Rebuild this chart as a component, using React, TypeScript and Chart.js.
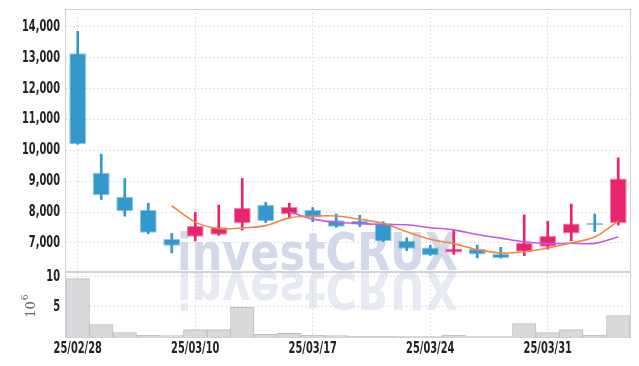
import React, { useEffect, useRef } from 'react';
import { Chart, registerables } from 'chart.js';
Chart.register(...registerables);

const labels = [
  '25/02/28', '25/03/04', '25/03/05', '25/03/06', '25/03/07',
  '25/03/10', '25/03/11', '25/03/12', '25/03/13', '25/03/14',
  '25/03/17', '25/03/18', '25/03/19', '25/03/20', '25/03/21',
  '25/03/24', '25/03/25', '25/03/26', '25/03/27', '25/03/28',
  '25/03/31', '25/04/01', '25/04/02', '25/04/03',
];
const shownLabels = ['25/02/28', '25/03/10', '25/03/17', '25/03/24', '25/03/31'];

const opens = [13150, 9275, 8500, 8080, 7130, 7200, 7270, 7640, 8240, 7930, 8070, 7740, 7710, 7640, 7070, 6850, 6690, 6810, 6640, 6720, 6880, 7310, 7600, 7640];
const closes = [10200, 8550, 8040, 7330, 6910, 7550, 7510, 8130, 7710, 8170, 7830, 7530, 7600, 7060, 6810, 6600, 6820, 6630, 6510, 7010, 7230, 7630, 7580, 9090];
const highs = [13860, 9880, 9090, 8290, 7310, 7990, 8230, 9090, 8320, 8290, 8150, 7940, 7900, 7690, 7170, 6930, 7420, 6930, 6860, 7910, 7710, 8260, 7940, 9760];
const lows = [10200, 8410, 7870, 7300, 6680, 7070, 7250, 7420, 7660, 7800, 7690, 7510, 7530, 7050, 6750, 6600, 6630, 6520, 6510, 6590, 6800, 7070, 7370, 7580];
const ma5 = [null, null, null, null, 8207, 7677, 7468, 7487, 7563, 7814, 7870, 7874, 7768, 7639, 7367, 7121, 6979, 6785, 6675, 6715, 6840, 7002, 7191, 7707];
const ma10 = [null, null, null, null, null, null, null, null, null, 8010, 7774, 7671, 7628, 7601, 7590, 7496, 7426, 7277, 7157, 7041, 6981, 6991, 6988, 7191];
const volumes = [9.73, 2.07, 0.73, 0.28, 0.25, 1.23, 1.23, 4.95, 0.45, 0.62, 0.28, 0.23, 0.1, 0.1, 0.05, 0.05, 0.28, 0.05, 0.05, 2.23, 0.73, 1.23, 0.28, 3.57];

const priceTicks = [7000, 8000, 9000, 10000, 11000, 12000, 13000, 14000];
const volumeTicks = [5, 10];
const watermark = 'investCRUX';
const volumeUnit = '10';
const volumeExp = '6';

const RED = '#e8246e';
const RED_BORDER = 'rgba(232,36,110,0.55)';
const BLUE = '#3399cc';
const BLUE_BORDER = 'rgba(51,153,204,0.55)';
const GRID = '#c6c9db';
const LABEL_FONT = 'bold 15px "DejaVu Sans", sans-serif';

export default function App() {
  const ref = useRef<HTMLCanvasElement>(null);
  useEffect(() => {
    document.body.style.margin = '0';
    const canvas = ref.current!;
    const up = opens.map((o, i) => closes[i] >= o);
    const bodyColors = up.map((u) => (u ? RED : BLUE));
    const bodyBorders = up.map((u) => (u ? RED_BORDER : BLUE_BORDER));

    const drawLabel = (ctx: any, text: string, x: number, y: number, align: 'right' | 'center', sx: number) => {
      ctx.save();
      ctx.translate(x, y);
      ctx.scale(sx, 1);
      ctx.textAlign = align;
      ctx.textBaseline = 'middle';
      ctx.fillText(text, 0, 0);
      ctx.restore();
    };

    const decor = {
      id: 'decor',
      beforeDraw(chart: any) {
        const ctx = chart.ctx;
        ctx.save();
        ctx.font = 'bold 52px "DejaVu Sans", sans-serif';
        ctx.textBaseline = 'alphabetic';
        const w = ctx.measureText(watermark).width;
        const sx = 281 / w;
        const baseY = 270;
        ctx.save();
        ctx.translate(177, baseY);
        ctx.scale(sx, 1);
        ctx.fillStyle = '#d3d8ea';
        ctx.fillText(watermark, 0, 0);
        ctx.restore();
        ctx.save();
        ctx.translate(177, baseY + 2);
        ctx.scale(sx, -1);
        ctx.fillStyle = '#e8eaf3';
        ctx.fillText(watermark, 0, 0);
        ctx.restore();
        ctx.restore();
      },
      afterDraw(chart: any) {
        const ctx = chart.ctx;
        const a = chart.chartArea;
        const ys = chart.scales.y;
        const y2 = chart.scales.y2;
        const xs = chart.scales.x;
        ctx.save();
        ctx.strokeStyle = '#d2d2d6';
        ctx.lineWidth = 1;
        ctx.strokeRect(a.left - 0.5, a.top + 0.5, a.right - a.left + 1, a.bottom - a.top);
        ctx.strokeStyle = '#c4c4c8';
        ctx.lineWidth = 1.5;
        ctx.beginPath();
        ctx.moveTo(a.left, ys.bottom);
        ctx.lineTo(a.right, ys.bottom);
        ctx.stroke();

        // tick labels (condensed)
        ctx.font = LABEL_FONT;
        ctx.fillStyle = '#222';
        const sx = 38 / ctx.measureText('14,000').width;
        priceTicks.forEach((v) => drawLabel(ctx, v.toLocaleString('en-US'), 60, ys.getPixelForValue(v), 'right', sx));
        volumeTicks.forEach((v) => drawLabel(ctx, String(v), 60, y2.getPixelForValue(v), 'right', sx));
        labels.forEach((l, i) => {
          if (shownLabels.includes(l)) drawLabel(ctx, l, xs.getPixelForValue(i), 349, 'center', sx);
        });

        ctx.translate(35, (y2.top + y2.bottom) / 2 + 2);
        ctx.rotate(-Math.PI / 2);
        ctx.fillStyle = '#666';
        ctx.font = '13px "DejaVu Serif", serif';
        ctx.textBaseline = 'alphabetic';
        const w10 = ctx.measureText(volumeUnit).width;
        ctx.fillText(volumeUnit, -w10 / 2 - 3, 0);
        ctx.font = '9px "DejaVu Serif", serif';
        ctx.fillText(volumeExp, w10 / 2 - 2, -7);
        ctx.restore();
      },
    };

    const chart = new Chart(canvas, {
      type: 'bar',
      data: {
        labels,
        datasets: [
          {
            type: 'line',
            label: 'MA5',
            data: ma5,
            yAxisID: 'y',
            borderColor: '#f0874a',
            borderWidth: 1.6,
            pointRadius: 0,
            tension: 0.3,
            order: 0,
          } as any,
          {
            type: 'line',
            label: 'MA10',
            data: ma10,
            yAxisID: 'y',
            borderColor: '#c45ae2',
            borderWidth: 1.6,
            pointRadius: 0,
            tension: 0.3,
            order: 0,
          } as any,
          {
            label: 'body',
            data: opens.map((o, i) => [o, closes[i]]),
            yAxisID: 'y',
            backgroundColor: bodyColors,
            borderColor: bodyBorders,
            borderWidth: 1,
            borderSkipped: false,
            barPercentage: 0.72,
            categoryPercentage: 1,
            grouped: false,
            minBarLength: 2,
            order: 1,
          } as any,
          {
            label: 'wick',
            data: lows.map((l, i) => [l, highs[i]]),
            yAxisID: 'y',
            backgroundColor: bodyColors,
            borderWidth: 0,
            barThickness: 2,
            grouped: false,
            order: 2,
          } as any,
          {
            label: 'volume',
            data: volumes,
            yAxisID: 'y2',
            backgroundColor: '#d9d9dc',
            borderColor: '#bcbcc0',
            borderWidth: 1,
            borderSkipped: 'bottom',
            barPercentage: 1,
            categoryPercentage: 1,
            grouped: false,
            order: 3,
          } as any,
        ],
      },
      options: {
        responsive: false,
        animation: false,
        layout: { padding: { top: 9, right: 9, left: 0, bottom: 0 } },
        plugins: { legend: { display: false }, tooltip: { enabled: false } },
        scales: {
          x: {
            offset: true,
            grid: {
              offset: false,
              drawTicks: false,
              color: (c: any) => (shownLabels.includes(labels[c.index]) ? GRID : 'transparent'),
            },
            border: { display: false, dash: [1, 3] },
            ticks: { display: false, autoSkip: false },
            afterFit: (s: any) => { s.height = 29; s.paddingLeft = 0; s.paddingRight = 0; },
          },
          y: {
            position: 'left',
            stack: 'pane',
            stackWeight: 263,
            weight: 2,
            min: 6060,
            max: 14583,
            grid: { color: GRID, drawTicks: false },
            border: { display: false, dash: [1, 3] },
            ticks: { display: false },
            afterBuildTicks: (s: any) => { s.ticks = priceTicks.map((v) => ({ value: v })); },
            afterFit: (s: any) => { s.width = 66; s.paddingTop = 0; s.paddingBottom = 0; },
          },
          y2: {
            position: 'left',
            stack: 'pane',
            stackWeight: 65,
            weight: 1,
            min: 0,
            max: 10.83,
            grid: { color: GRID, drawTicks: false },
            border: { display: false, dash: [1, 3] },
            ticks: { display: false },
            afterBuildTicks: (s: any) => { s.ticks = volumeTicks.map((v) => ({ value: v })); },
            afterFit: (s: any) => { s.width = 66; s.paddingTop = 0; s.paddingBottom = 0; },
          },
        },
      } as any,
      plugins: [decor],
    });
    return () => chart.destroy();
  }, []);
  return (
    <div style={{ width: 639, height: 366 }}>
      <canvas ref={ref} width={639} height={366} />
    </div>
  );
}
